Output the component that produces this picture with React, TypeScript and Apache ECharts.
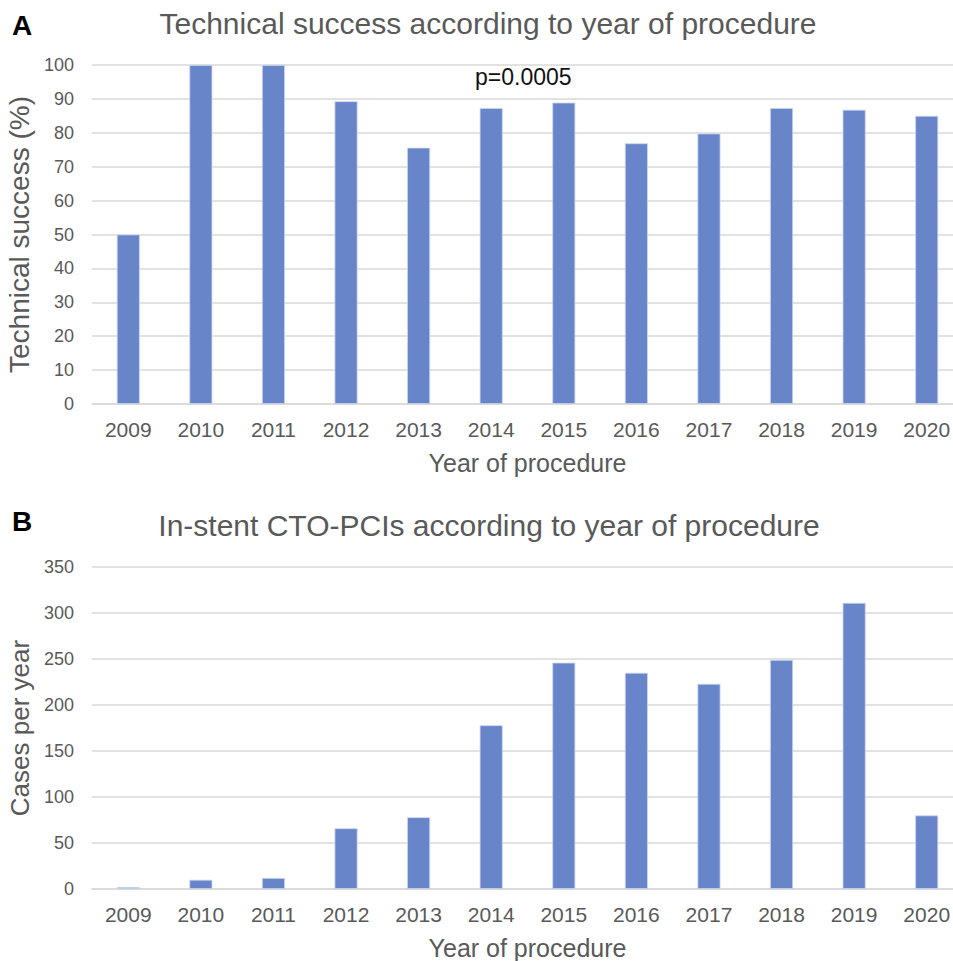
import React, { useEffect, useRef } from "react";
import * as echarts from "echarts";

const years = ["2009", "2010", "2011", "2012", "2013", "2014", "2015", "2016", "2017", "2018", "2019", "2020"];
const successPct = [50, 100, 100, 89.3, 75.6, 87.3, 88.9, 76.9, 79.8, 87.3, 86.8, 85.0];
const casesPerYear = [2, 10, 12, 66, 78, 178, 246, 235, 223, 249, 311, 80];

const BAR = "#6785c8";
const GRID = "#d9d9d9";
const TXT = "#595959";
const FONT = "'Liberation Sans', Arial, sans-serif";

export default function App() {
  const ref = useRef<HTMLDivElement>(null);
  useEffect(() => {
    if (!ref.current) return;
    const chart = echarts.init(ref.current, undefined, { renderer: "svg" });
    const xAxisCommon = {
      type: "category" as const,
      data: years,
      axisLine: { lineStyle: { color: GRID, width: 1.5 } },
      axisTick: { show: false },
      axisLabel: { color: TXT, fontSize: 21, fontFamily: FONT, margin: 15 },
      nameLocation: "middle" as const,
      nameGap: 46,
      nameTextStyle: { color: TXT, fontSize: 25, fontFamily: FONT },
    };
    const yAxisCommon = {
      type: "value" as const,
      axisLine: { show: false },
      axisTick: { show: false },
      splitLine: { lineStyle: { color: GRID, width: 1.5 } },
      axisLabel: { color: TXT, fontSize: 18, fontFamily: FONT, margin: 18 },
      nameLocation: "middle" as const,
      nameRotate: 90,
      nameGap: 54,
    };
    chart.setOption({
      animation: false,
      backgroundColor: "#ffffff",
      title: [
        {
          text: "Technical success according to year of procedure",
          left: 483,
          textAlign: "center",
          top: 3,
          textStyle: { color: TXT, fontSize: 30, fontWeight: "normal", fontFamily: FONT },
        },
        {
          text: "In-stent CTO-PCIs according to year of procedure",
          left: 484,
          textAlign: "center",
          top: 505,
          textStyle: { color: TXT, fontSize: 30, fontWeight: "normal", fontFamily: FONT },
        },
      ],
      grid: [
        { left: 92, right: -10, top: 65, height: 339, outerBoundsMode: "none", containLabel: false },
        { left: 92, right: -10, top: 567, height: 322, outerBoundsMode: "none", containLabel: false },
      ],
      xAxis: [
        { ...xAxisCommon, gridIndex: 0, name: "Year of procedure" },
        { ...xAxisCommon, gridIndex: 1, name: "Year of procedure" },
      ],
      yAxis: [
        {
          ...yAxisCommon,
          gridIndex: 0,
          min: 0,
          max: 100,
          interval: 10,
          name: "Technical success (%)",
          nameTextStyle: { color: TXT, fontSize: 28, fontFamily: FONT },
        },
        {
          ...yAxisCommon,
          gridIndex: 1,
          min: 0,
          max: 350,
          interval: 50,
          name: "Cases per year",
          nameTextStyle: { color: TXT, fontSize: 26, fontFamily: FONT },
        },
      ],
      series: [
        {
          type: "bar",
          xAxisIndex: 0,
          yAxisIndex: 0,
          data: successPct,
          barWidth: 23,
          itemStyle: { color: BAR, borderColor: "#c9d6ef", borderWidth: 0.8 },
        },
        {
          type: "bar",
          xAxisIndex: 1,
          yAxisIndex: 1,
          data: casesPerYear,
          barWidth: 23,
          itemStyle: { color: BAR, borderColor: "#c9d6ef", borderWidth: 0.8 },
        },
      ],
      graphic: [
        {
          type: "text",
          left: 12,
          top: 11,
          style: { text: "A", fill: "#000", font: `bold 28px ${FONT}` },
        },
        {
          type: "text",
          left: 12,
          top: 507,
          style: { text: "B", fill: "#000", font: `bold 28px ${FONT}` },
        },
        {
          type: "text",
          left: 475,
          top: 65,
          style: { text: "p=0.0005", fill: "#111", font: `23px ${FONT}` },
        },
      ],
    });
    return () => chart.dispose();
  }, []);
  return (
    <div
      ref={ref}
      style={{ position: "absolute", left: 0, top: 0, width: 953, height: 961, background: "#fff" }}
    />
  );
}
